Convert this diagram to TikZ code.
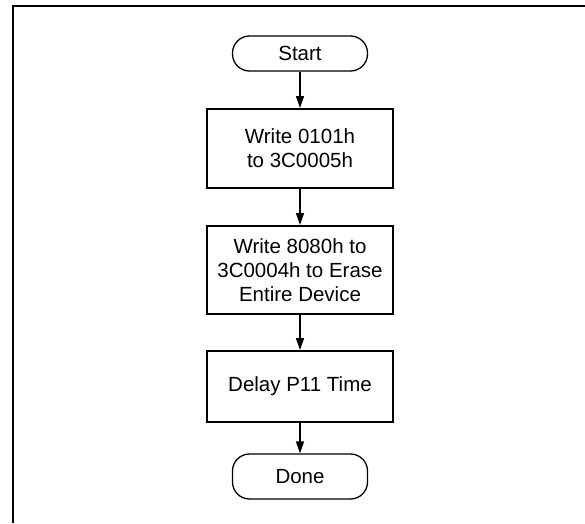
\documentclass[tikz,border=0pt]{standalone}
\usepackage{fontspec}
\setmainfont{Liberation Sans}
\usetikzlibrary{arrows.meta}
\begin{document}
\begin{tikzpicture}[x=1pt,y=-1pt,
  every node/.style={font=\fontsize{20.5}{24}\selectfont, align=center, inner sep=0pt},
  procbox/.style={draw, line width=2pt, minimum width=186pt},
  term/.style={draw, line width=1.3pt, rounded corners=17pt, minimum width=135pt},
  flow/.style={-{Triangle[length=12pt,width=8pt]}, line width=1.5pt}]
\useasboundingbox (0,0) rectangle (585,523);
% page frame (open on the right and at the bottom)
\draw[line width=2.2pt] (13,523) -- (13,6) -- (585,6);
% flow steps
\node[term, minimum height=35pt] (start) at (300,53.5) {Start};
\node[procbox, minimum height=79pt] (b1) at (300,148.5) {Write 0101h\\to 3C0005h};
\node[procbox, minimum height=88pt] (b2) at (300,270) {Write 8080h to\\3C0004h to Erase\\Entire Device};
\node[procbox, minimum height=71pt] (b3) at (300,386.5) {Delay P11 Time};
\node[term, minimum height=45pt] (done) at (300,476.5) {Done};
% connectors
\draw[flow] (start) -- (b1);
\draw[flow] (b1) -- (b2);
\draw[flow] (b2) -- (b3);
\draw[flow] (b3) -- (done);
\end{tikzpicture}
\end{document}
